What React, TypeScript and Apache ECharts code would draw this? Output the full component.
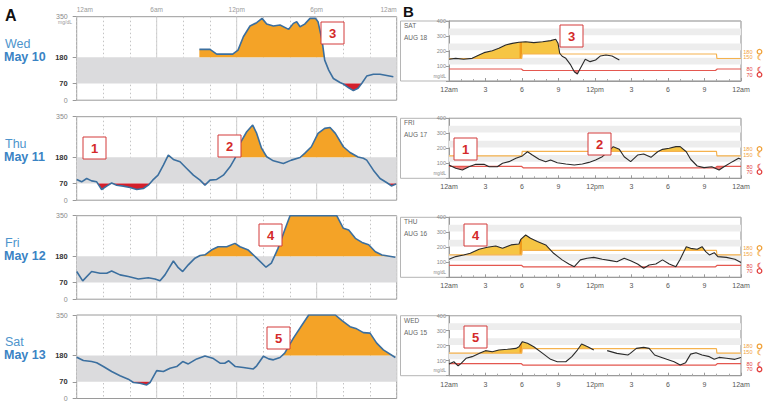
import React, { useEffect, useRef } from 'react';
import * as echarts from 'echarts';

type P = [number, number];

// ---------------- Panel A data (hours, mg/dL) ----------------
const aDow = ['Wed', 'Thu', 'Fri', 'Sat'];
const aDate = ['May 10', 'May 11', 'May 12', 'May 13'];
const aYTicks = [0, 70, 180, 350];
const aXLabels = ['12am', '6am', '12pm', '6pm', '12am'];
const aLow = 70;
const aHigh = 180;

const aWed: P[] = [[9.2, 213], [10, 213], [10.5, 193], [11.7, 193], [12.1, 210], [12.5, 266], [13, 311], [13.5, 325], [13.9, 343], [14.25, 319], [14.75, 311], [15.25, 315], [15.9, 297], [16.25, 322], [16.5, 329], [16.75, 308], [17.1, 319], [17.5, 343], [17.9, 343], [18.1, 329], [18.4, 252], [18.6, 168], [18.9, 126], [19.25, 91], [19.75, 74], [20, 68], [20.4, 52], [20.75, 40], [21.1, 50], [21.4, 72], [21.75, 101], [22.25, 109], [22.75, 109], [23.75, 98]];
const aThu: P[] = [[0, 87], [0.37, 77], [0.75, 91], [1.12, 81], [1.5, 77], [1.87, 45], [2.25, 59], [2.62, 72], [3, 63], [3.5, 59], [4, 53], [4.5, 45], [5, 49], [5.37, 63], [5.7, 84], [6.1, 105], [6.5, 147], [6.87, 189], [7.25, 171], [7.75, 161], [8.25, 133], [8.75, 105], [9.25, 84], [9.62, 63], [10, 84], [10.5, 87], [11, 105], [11.5, 140], [11.87, 175], [12.25, 238], [12.75, 287], [13.2, 315], [13.5, 280], [13.87, 217], [14.25, 182], [14.75, 165], [15.5, 154], [16.1, 168], [16.75, 179], [17.1, 196], [17.6, 224], [18.1, 280], [18.6, 301], [19, 305], [19.4, 280], [20, 224], [20.5, 200], [21.1, 181], [21.5, 176], [21.75, 168], [22.25, 126], [22.75, 91], [23.3, 72], [23.6, 60], [23.95, 68]];
const aFri: P[] = [[0, 116], [0.45, 77], [1.12, 116], [1.75, 109], [2.25, 109], [2.62, 118], [3.25, 102], [3.87, 95], [4.62, 85], [5.37, 90], [5.87, 85], [6.25, 77], [6.62, 102], [7.25, 160], [7.62, 132], [7.95, 116], [8.37, 144], [8.87, 172], [9.25, 183], [9.62, 186], [10.1, 206], [10.6, 220], [11.25, 220], [11.87, 234], [12.25, 220], [12.87, 206], [13.5, 172], [14.2, 134], [14.6, 151], [15.1, 213], [15.6, 290], [16, 350], [19.5, 350], [20, 297], [20.4, 290], [20.9, 255], [21.4, 238], [21.9, 228], [22.4, 199], [22.9, 185], [23.9, 176]];
const aSat: P[] = [[0, 173], [0.5, 159], [1.12, 155], [1.5, 150], [2, 134], [2.62, 113], [3.25, 95], [3.87, 81], [4.25, 67], [4.75, 64], [5.25, 57], [5.5, 67], [6, 117], [6.5, 113], [7, 127], [7.5, 134], [7.95, 155], [8.37, 145], [9, 166], [9.62, 178], [10.2, 169], [10.75, 148], [11.1, 148], [11.4, 158], [11.9, 134], [12.5, 130], [13.25, 124], [13.5, 137], [14, 177], [14.4, 166], [14.75, 162], [15.25, 172], [15.6, 190], [16.25, 253], [16.9, 308], [17.4, 350], [19.4, 350], [19.9, 326], [20.5, 301], [21, 292], [21.5, 276], [22, 274], [22.5, 232], [23, 204], [23.9, 172]];

// ---------------- Panel B data ----------------
const bDow = ['SAT', 'FRI', 'THU', 'WED'];
const bDate = ['AUG 18', 'AUG 17', 'AUG 16', 'AUG 15'];
const bXLabels = ['12am', '3', '6', '9', '12pm', '3', '6', '9', '12am'];
const bUpper: P[] = [[0, 150], [5.98, 150], [6.02, 180], [21.98, 180], [22.02, 150], [24, 150]];
const bLower: P[] = [[0, 80], [5.95, 80], [6.1, 70], [21.9, 70], [22.05, 80], [24, 80]];
const bStripes: P[] = [[110, 155], [205, 250], [305, 350]];
const bLegendVals = ['180', '150', '80', '70'];

const bSat: (P | null)[] = [[0, 145], [0.55, 151], [1.2, 145], [1.9, 151], [2.47, 173], [2.88, 189], [3.56, 202], [4.1, 218], [4.66, 240], [5.2, 251], [5.75, 258], [6.3, 262], [6.97, 256], [7.7, 262], [8.35, 269], [8.77, 278], [8.96, 251], [9.1, 185], [9.3, 165], [9.6, 151], [10, 107], [10.3, 62], [10.55, 47], [10.8, 85], [11.2, 145], [11.6, 129], [12.05, 140], [12.45, 167], [12.9, 173], [13.4, 167], [14, 140]];
const bFri: (P | null)[] = [[0, 89], [0.55, 67], [1.1, 55], [1.64, 77], [2.2, 93], [2.88, 93], [3.3, 77], [3.97, 77], [4.4, 100], [4.93, 111], [5.5, 133], [6.03, 149], [6.45, 177], [6.85, 155], [7.4, 127], [7.95, 111], [8.35, 122], [8.9, 104], [9.6, 95], [10.3, 89], [10.96, 95], [11.5, 106], [12.05, 122], [12.6, 144], [13.06, 177], [13.5, 211], [14, 193], [14.4, 144], [14.93, 111], [15.5, 155], [16, 162], [16.6, 140], [17.15, 177], [17.55, 193], [18.1, 200], [18.65, 211], [19, 211], [19.5, 177], [19.86, 127], [20.4, 82], [20.96, 71], [21.6, 77], [22.2, 55], [22.6, 77], [23.3, 111], [23.8, 133], [24, 127]];
const bThu: (P | null)[] = [[0, 120], [0.55, 138], [1.2, 149], [1.75, 160], [2.47, 187], [3.15, 200], [3.84, 209], [4.4, 193], [5.1, 216], [5.75, 222], [5.9, 253], [6.3, 282], [6.7, 260], [7.26, 238], [7.95, 216], [8.6, 160], [9.3, 116], [9.85, 89], [10.3, 71], [10.8, 116], [11.35, 127], [11.9, 133], [12.6, 120], [13.3, 111], [13.8, 104], [14.4, 127], [14.93, 111], [15.5, 89], [16, 60], [16.45, 82], [17, 89], [17.55, 116], [18.1, 89], [18.65, 71], [19, 120], [19.5, 204], [19.86, 193], [20.4, 187], [20.8, 204], [21.1, 171], [21.4, 149], [21.8, 164], [22.1, 138], [22.8, 133], [23.5, 120], [24, 98]];
const bWed: (P | null)[] = [[0, 78], [0.4, 93], [0.75, 65], [1, 82], [1.4, 116], [1.9, 127], [2.6, 153], [3, 167], [3.56, 160], [4.1, 171], [4.8, 176], [5.5, 182], [5.75, 193], [6.03, 227], [6.45, 216], [6.97, 193], [7.7, 149], [8.35, 109], [8.9, 93], [9.6, 93], [10.1, 127], [10.55, 171], [10.9, 211], [11.4, 193], [11.9, 171], null, [13, 167], [13.8, 149], [14.7, 138], [14.9, 149], [15.4, 182], [16, 189], [16.45, 182], [16.9, 138], [17.3, 127], [17.9, 109], [18.5, 93], [19, 71], [19.45, 87], [19.86, 144], [20.3, 153], [20.8, 138], [21.4, 127], [21.8, 109], [22.2, 122], [22.8, 116], [23.5, 109], [24, 122]];

// annotation labels
const aNotes = ['3', '1', '2', '4', '5'];
const bNotes = ['3', '1', '2', '4', '5'];

// ---------------- helpers ----------------
const FONT = '"Liberation Sans", Arial, sans-serif';

function interp(seg: P[], h: number): number {
  if (h <= seg[0][0]) return seg[0][1];
  for (let i = 1; i < seg.length; i++) {
    const [x1, y1] = seg[i];
    if (h <= x1) {
      const [x0, y0] = seg[i - 1];
      return x1 === x0 ? y1 : y0 + ((y1 - y0) * (h - x0)) / (x1 - x0);
    }
  }
  return seg[seg.length - 1][1];
}

function regions(trace: (P | null)[], thr: P[], above: boolean, lo = -Infinity, hi = Infinity): P[][] {
  const sgn = above ? 1 : -1;
  const segs: P[][] = [];
  let cur: P[] = [];
  trace.forEach((p) => {
    if (p) cur.push(p);
    else {
      if (cur.length > 1) segs.push(cur);
      cur = [];
    }
  });
  if (cur.length > 1) segs.push(cur);
  const out: P[][] = [];
  segs.forEach((seg) => {
    const a = Math.max(seg[0][0], lo);
    const b = Math.min(seg[seg.length - 1][0], hi);
    if (b <= a) return;
    const hs = [a, b, ...seg.map((p) => p[0]), ...thr.map((t) => t[0])].filter((h) => h >= a && h <= b);
    const H = Array.from(new Set(hs)).sort((x, y) => x - y);
    const pts = H.map((h) => ({ h, v: interp(seg, h), t: interp(thr, h) }));
    let poly: any[] | null = null;
    const flush = () => {
      if (poly && poly.length > 1) {
        out.push([
          ...poly.map((q) => [q.h, q.v] as P),
          ...poly.slice().reverse().map((q) => [q.h, q.t] as P),
        ]);
      }
      poly = null;
    };
    pts.forEach((q, i) => {
      const dq = sgn * (q.v - q.t);
      if (i > 0) {
        const p = pts[i - 1];
        const dp = sgn * (p.v - p.t);
        if (dp > 0 !== dq > 0) {
          const s = dp / (dp - dq);
          const h = p.h + s * (q.h - p.h);
          const v = p.v + s * (q.v - p.v);
          const c = { h, v, t: v };
          if (poly) {
            poly.push(c);
            flush();
          } else poly = [c];
        }
      }
      if (dq > 0) {
        if (!poly) poly = [];
        poly.push(q);
      }
    });
    flush();
  });
  return out;
}

function polySeries(gi: number, polys: P[][], color: string, z: number) {
  return {
    type: 'custom',
    coordinateSystem: 'cartesian2d',
    xAxisIndex: gi,
    yAxisIndex: gi,
    z,
    silent: true,
    clip: true,
    encode: { x: 0, y: 1 },
    data: polys.map((p) => p[0]),
    renderItem: (params: any, api: any) => {
      const poly = polys[params.dataIndex];
      return {
        type: 'polygon',
        shape: { points: poly.map((pt) => api.coord(pt)) },
        style: { fill: color },
      };
    },
  };
}

function bandSeries(gi: number, bands: P[], color: string, z: number) {
  return {
    type: 'custom',
    coordinateSystem: 'cartesian2d',
    xAxisIndex: gi,
    yAxisIndex: gi,
    z,
    silent: true,
    encode: { x: 0, y: 1 },
    data: bands.map((b) => [0, b[0], b[1]]),
    renderItem: (params: any, api: any) => {
      const p1 = api.coord([0, api.value(2)]);
      const p2 = api.coord([24, api.value(1)]);
      return {
        type: 'rect',
        shape: { x: p1[0], y: p1[1], width: p2[0] - p1[0], height: p2[1] - p1[1] },
        style: { fill: color },
      };
    },
  };
}

function vlineSeries(gi: number, hours: number[], ymax: number, color: string, z: number) {
  return {
    type: 'custom',
    coordinateSystem: 'cartesian2d',
    xAxisIndex: gi,
    yAxisIndex: gi,
    z,
    silent: true,
    encode: { x: 0, y: 1 },
    data: hours.map((h) => [h, 0]),
    renderItem: (params: any, api: any) => {
      const p1 = api.coord([api.value(0), 0]);
      const p2 = api.coord([api.value(0), ymax]);
      return {
        type: 'line',
        shape: { x1: p1[0], y1: p1[1], x2: p2[0], y2: p2[1] },
        style: { stroke: color, lineWidth: 1 },
      };
    },
  };
}

function txt(x: number, y: number, text: string, size: number, color: string, weight = 'normal', align = 'left') {
  return {
    type: 'text',
    x,
    y,
    silent: true,
    z: 100,
    style: {
      text,
      fill: color,
      fontSize: size,
      lineHeight: size,
      fontWeight: weight,
      fontFamily: FONT,
      align,
      textAlign: align,
      verticalAlign: 'middle',
      textVerticalAlign: 'middle',
    },
  };
}

// ---------------- layout ----------------
const A_LEFT = 76.7;
const A_WIDTH = 320;
const A_TOPS = [16.7, 116.7, 215.7, 315];
const A_H = 83.5;
const B_LEFT = 449;
const B_WIDTH = 292;
const B_TOPS = [21, 118.3, 217.3, 315.7];
const B_H = 60;
const A_NOTE_POS = [[321, 22], [83, 137], [218, 135], [259, 224], [267, 327]];
const B_NOTE_POS = [[560, 25], [454, 138], [588, 133], [464, 224], [464, 326]];

function buildOption() {
  const grids: any[] = [];
  const xAxes: any[] = [];
  const yAxes: any[] = [];
  const series: any[] = [];
  const graphics: any[] = [];

  const aTraces = [aWed, aThu, aFri, aSat];
  aTraces.forEach((trace, i) => {
    grids.push({
      left: A_LEFT, top: A_TOPS[i], width: A_WIDTH, height: A_H,
      show: true, borderColor: '#9a9a9a', borderWidth: 1, backgroundColor: '#fff',
      containLabel: false, outerBoundsMode: 'none',
    });
    xAxes.push({
      type: 'value', gridIndex: i, min: 0, max: 24, interval: 2,
      position: i === 0 ? 'top' : 'bottom',
      axisLine: { show: false }, axisTick: { show: false },
      axisLabel: {
        show: i === 0, fontSize: 6.5, color: '#9a9a9a', margin: 4, fontFamily: FONT,
        alignMinLabel: 'left', alignMaxLabel: 'right',
        formatter: (v: number) => (v % 6 === 0 ? aXLabels[v / 6] : ''),
      },
      splitLine: { show: true, lineStyle: { type: [1.5, 2.5], color: '#c4c4c4', width: 1 } },
    });
    yAxes.push({
      type: 'value', gridIndex: i, min: 0, max: 350,
      axisLine: { show: false },
      axisTick: { show: true, customValues: aYTicks, length: 4, lineStyle: { color: '#999' } },
      axisLabel: {
        customValues: aYTicks, margin: 9, fontFamily: FONT,
        formatter: (v: number) => (v === aLow || v === aHigh ? `{b|${v}}` : `{n|${v}}`),
        rich: {
          b: { fontWeight: 'bold', color: '#333', fontSize: 7.5, fontFamily: FONT },
          n: { color: '#8a8a8a', fontSize: 7, fontFamily: FONT },
        },
      },
      splitLine: { show: false },
    });
    series.push(vlineSeries(i, [6, 12, 18], 350, '#cfcfcf', 1));
    series.push(bandSeries(i, [[aLow, aHigh]], '#dbdbdd', 2));
    series.push(polySeries(i, regions(trace, [[0, aHigh], [24, aHigh]], true), '#f4a327', 3));
    series.push(polySeries(i, regions(trace, [[0, aLow], [24, aLow]], false), '#d41f2b', 3));
    series.push({
      type: 'line', xAxisIndex: i, yAxisIndex: i, data: trace, symbol: 'none', z: 5,
      lineStyle: { color: '#3b6f9f', width: 1.6 }, silent: true,
    });
    const top = A_TOPS[i];
    graphics.push(txt(5, top + 27.3, aDow[i], 12.5, '#4d94cc'));
    graphics.push(txt(4, top + 40, aDate[i], 12.5, '#3a83c4', 'bold'));
  });
  graphics.push(txt(72, A_TOPS[0] + 5.5, 'mg/dL', 5, '#999', 'normal', 'right'));

  const bTraces = [bSat, bFri, bThu, bWed];
  bTraces.forEach((trace, k) => {
    const gi = 4 + k;
    const top = B_TOPS[k];
    grids.push({
      left: B_LEFT, top, width: B_WIDTH, height: B_H,
      show: true, borderColor: '#a8a8a8', borderWidth: 1, backgroundColor: '#fff',
      containLabel: false, outerBoundsMode: 'none',
    });
    xAxes.push({
      type: 'value', gridIndex: gi, min: 0, max: 24, interval: 3, position: 'bottom',
      axisLine: { show: true, lineStyle: { color: '#9a9a9a' } },
      axisTick: { show: true, inside: true, length: 3, lineStyle: { color: '#9a9a9a' } },
      minorTick: { show: true, splitNumber: 3, length: 2, lineStyle: { color: '#aaa' } },
      axisLabel: {
        fontSize: 7, color: '#555', margin: 5, fontFamily: FONT,
        formatter: (v: number) => bXLabels[v / 3],
      },
      splitLine: { show: false },
    });
    yAxes.push({
      type: 'value', gridIndex: gi, min: 0, max: 400, interval: 100,
      axisLine: { show: true, lineStyle: { color: '#9a9a9a' } },
      axisTick: { show: true, length: 3, lineStyle: { color: '#9a9a9a' } },
      axisLabel: {
        fontSize: 5.5, color: '#888', margin: 3, fontFamily: FONT,
        formatter: (v: number) => (v === 0 ? '' : String(v)),
      },
      splitLine: { show: false },
    });
    series.push(bandSeries(gi, bStripes, '#ededed', 1));
    series.push(polySeries(gi, regions(trace, bUpper, true), '#f6c544', 2));
    series.push(polySeries(gi, regions(trace, bUpper, true, 5.8, 6.0), '#f09a1a', 3));
    series.push(polySeries(gi, regions(trace, bLower, false), '#f07a7a', 2));
    series.push({
      type: 'line', xAxisIndex: gi, yAxisIndex: gi, data: bUpper, symbol: 'none', z: 4,
      lineStyle: { color: '#f5b24e', width: 1.2 }, silent: true,
    });
    series.push({
      type: 'line', xAxisIndex: gi, yAxisIndex: gi, data: bLower, symbol: 'none', z: 4,
      lineStyle: { color: '#e4574f', width: 1.2 }, silent: true,
    });
    series.push({
      type: 'line', xAxisIndex: gi, yAxisIndex: gi, data: trace, symbol: 'none', z: 5,
      connectNulls: false, lineStyle: { color: '#2a2a2a', width: 1.1 }, silent: true,
    });
    // frame extension + labels
    graphics.push({
      type: 'rect', silent: true, z: 0,
      shape: { x: 400.5, y: top, width: B_LEFT + B_WIDTH - 400.5, height: B_H },
      style: { fill: 'none', stroke: '#b5b5b5', lineWidth: 1 },
    });
    graphics.push(txt(404, top + 4.3, bDow[k], 6.5, '#666'));
    graphics.push(txt(404, top + 16.3, bDate[k], 6.5, '#666'));
    graphics.push(txt(446, top + 55, 'mg/dL', 4.5, '#888', 'normal', 'right'));
    const legY = [30.7, 36.3, 48.3, 53.7];
    const legC = ['#f0a23a', '#f0a23a', '#e2413f', '#e2413f'];
    bLegendVals.forEach((v, j) => {
      graphics.push(txt(752.5, top + legY[j], v, 5.5, legC[j], 'normal', 'right'));
      if (j === 0 || j === 3) {
        graphics.push({
          type: 'circle', silent: true, z: 100,
          shape: { cx: 759.5, cy: top + legY[j], r: 2.3 },
          style: { fill: 'none', stroke: legC[j], lineWidth: 1.3 },
        });
      } else {
        graphics.push(txt(759.5, top + legY[j], '☾', 6.5, legC[j], 'bold', 'center'));
      }
    });
  });

  // annotation boxes
  const boxes = [
    ...aNotes.map((t, i) => [A_NOTE_POS[i][0], A_NOTE_POS[i][1], t]),
    ...bNotes.map((t, i) => [B_NOTE_POS[i][0], B_NOTE_POS[i][1], t]),
  ] as [number, number, string][];
  boxes.forEach(([x, y, t]) => {
    graphics.push({
      type: 'rect', silent: true, z: 110,
      shape: { x, y, width: 23, height: 22 },
      style: { fill: '#fff', stroke: '#d33a3a', lineWidth: 1 },
    });
    graphics.push({ ...txt(x + 11.5, y + 11.5, t, 13, '#d42a2a', 'bold', 'center'), z: 111 });
  });

  graphics.push(txt(5, 15, 'A', 16, '#111', 'bold'));
  graphics.push(txt(403, 11, 'B', 15, '#111', 'bold'));

  return {
    animation: false,
    backgroundColor: '#fff',
    textStyle: { fontFamily: FONT },
    grid: grids,
    xAxis: xAxes,
    yAxis: yAxes,
    series,
    graphic: { elements: graphics },
  };
}

export default function App() {
  const ref = useRef<HTMLDivElement>(null);
  useEffect(() => {
    document.body.style.margin = '0';
    const chart = echarts.init(ref.current as HTMLDivElement, null, { renderer: 'svg' });
    chart.setOption(buildOption() as any);
    return () => chart.dispose();
  }, []);
  return <div ref={ref} style={{ width: 768, height: 406 }} />;
}
